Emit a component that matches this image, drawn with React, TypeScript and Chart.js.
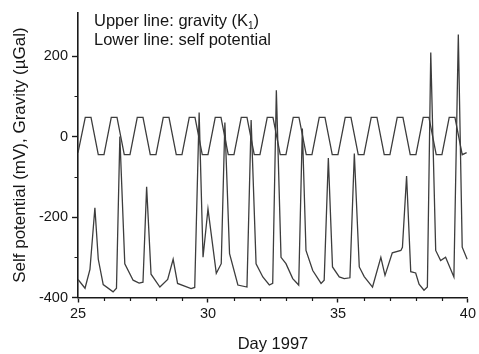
import { useEffect, useRef } from 'react';
import { Chart, registerables } from 'chart.js';

Chart.register(...registerables);

const FONT = '"Liberation Sans", Arial, Helvetica, sans-serif';
const TEXT = '#151515';
const AXIS = '#1a1a1a';
const LINE = '#3d3d3d';

// Axis ranges and tick labels
const xMin = 25;
const xMax = 40;
const yMin = -400;
const yMax = 308;
const xLabelTicks = [25, 30, 35, 40];
const xMinorTicks = [26, 27, 28, 29, 31, 32, 33, 34, 36, 37, 38, 39];
const yLabelTicks = [-400, -200, 0, 200];
const yMinorTicks = [-300, -100, 100];

const xTitle = 'Day 1997';
const yTitle = 'Self potential (mV), Gravity (µGal)';
const noteUpper = 'Upper line: gravity (K';
const noteUpperSub = '1';
const noteUpperEnd = ')';
const noteLower = 'Lower line: self potential';

// Upper line: gravity (K1) tide
const gravityDays = [
  25.0, 25.28, 25.5, 25.78,
  26.0, 26.28, 26.5, 26.78,
  27.0, 27.28, 27.5, 27.78,
  28.0, 28.28, 28.5, 28.78,
  29.0, 29.28, 29.5, 29.78,
  30.0, 30.28, 30.5, 30.78,
  31.0, 31.28, 31.5, 31.78,
  32.0, 32.28, 32.5, 32.78,
  33.0, 33.28, 33.5, 33.78,
  34.0, 34.28, 34.5, 34.78,
  35.0, 35.28, 35.5, 35.78,
  36.0, 36.28, 36.5, 36.78,
  37.0, 37.28, 37.5, 37.78,
  38.0, 38.28, 38.5, 38.78,
  39.0, 39.28, 39.5, 39.78,
  39.95,
];
const gravityValues = [
  -40, 48, 48, -45,
  -45, 48, 48, -45,
  -45, 48, 48, -45,
  -45, 48, 48, -45,
  -45, 48, 48, -45,
  -45, 48, 48, -45,
  -45, 48, 48, -45,
  -45, 48, 48, -45,
  -45, 48, 48, -45,
  -45, 48, 48, -45,
  -45, 48, 48, -45,
  -45, 48, 48, -45,
  -45, 48, 48, -45,
  -45, 48, 48, -45,
  -45, 48, 48, -45,
  -40,
];

// Lower line: self potential
const spDays = [
  25.0, 25.27, 25.46, 25.65, 25.78, 25.97, 26.35, 26.48, 26.61, 26.8,
  27.12, 27.35, 27.5, 27.64, 27.81, 28.15, 28.45, 28.66, 28.83, 29.35,
  29.49, 29.66, 29.81, 30.0, 30.32, 30.51, 30.65, 30.83, 31.15, 31.5,
  31.66, 31.85, 32.11, 32.36, 32.49, 32.63, 32.81, 33.0, 33.26, 33.49,
  33.63, 33.77, 34.03, 34.35, 34.47, 34.63, 34.79, 35.05, 35.24, 35.46,
  35.63, 35.82, 36.01, 36.33, 36.65, 36.81, 37.09, 37.42, 37.48, 37.64,
  37.8, 37.99, 38.12, 38.31, 38.44, 38.57, 38.76, 38.95, 39.14, 39.46,
  39.63, 39.78, 39.97,
];
const spValues = [
  -355, -377, -330, -177, -305, -368, -386, -377, 0, -316,
  -357, -364, -362, -125, -342, -374, -355, -305, -365, -378,
  -375, 60, -300, -180, -340, -316, 35, -291, -369, -374,
  41, -316, -349, -369, -365, 115, -300, -316, -353, -369,
  20, -283, -333, -365, -357, -53, -324, -349, -353, -351,
  -42, -324, -348, -374, -300, -345, -289, -283, -275, -98,
  -336, -339, -367, -382, -374, 209, -283, -308, -300, -349,
  254, -275, -305,
];

const decorPlugin = {
  id: 'decor',
  afterDraw(chart: any) {
    const ctx = chart.ctx as CanvasRenderingContext2D;
    const xs = chart.scales.x;
    const ys = chart.scales.y;
    const area = chart.chartArea;
    ctx.save();
    ctx.strokeStyle = AXIS;
    ctx.lineWidth = 1.2;
    ctx.beginPath();
    for (const d of xMinorTicks) {
      const px = Math.round(xs.getPixelForValue(d)) + 0.5;
      ctx.moveTo(px, area.bottom);
      ctx.lineTo(px, area.bottom + 3.5);
    }
    for (const v of yMinorTicks) {
      const py = Math.round(ys.getPixelForValue(v)) + 0.5;
      ctx.moveTo(area.left, py);
      ctx.lineTo(area.left - 3.5, py);
    }
    ctx.stroke();

    ctx.fillStyle = TEXT;
    ctx.textBaseline = 'alphabetic';
    ctx.textAlign = 'left';
    const mainFont = `16.5px ${FONT}`;
    const x0 = area.left + 16;
    ctx.font = mainFont;
    ctx.fillText(noteUpper, x0, 26);
    let w = ctx.measureText(noteUpper).width;
    ctx.font = `10px ${FONT}`;
    ctx.fillText(noteUpperSub, x0 + w, 29);
    w += ctx.measureText(noteUpperSub).width;
    ctx.font = mainFont;
    ctx.fillText(noteUpperEnd, x0 + w, 26);
    ctx.fillText(noteLower, x0, 45);
    ctx.restore();
  },
};

export default function App() {
  const canvasRef = useRef<HTMLCanvasElement | null>(null);

  useEffect(() => {
    const canvas = canvasRef.current;
    if (!canvas) return;
    Chart.defaults.font.family = FONT;
    const gravityData = gravityDays.map((d, i) => ({ x: d, y: gravityValues[i] }));
    const spData = spDays.map((d, i) => ({ x: d, y: spValues[i] }));

    const chart = new Chart(canvas, {
      type: 'line',
      data: {
        datasets: [
          {
            label: 'Gravity (K1)',
            data: gravityData,
            borderColor: LINE,
            borderWidth: 1.3,
            pointRadius: 0,
            tension: 0,
            fill: false,
          },
          {
            label: 'Self potential',
            data: spData,
            borderColor: LINE,
            borderWidth: 1.3,
            pointRadius: 0,
            tension: 0,
            fill: false,
          },
        ],
      },
      options: {
        animation: false,
        responsive: false,
        maintainAspectRatio: false,
        devicePixelRatio: 1,
        layout: { padding: { left: 4, right: 10, top: 10, bottom: 0 } },
        plugins: {
          legend: { display: false },
          tooltip: { enabled: false },
        },
        scales: {
          x: {
            type: 'linear',
            min: xMin,
            max: xMax,
            afterFit: (scale: any) => {
              scale.height = 56.5;
            },
            afterBuildTicks: (scale: any) => {
              scale.ticks = xLabelTicks.map((v) => ({ value: v }));
            },
            ticks: {
              autoSkip: false,
              maxRotation: 0,
              padding: 3,
              color: TEXT,
              font: { size: 14.5 },
            },
            grid: {
              display: true,
              drawOnChartArea: false,
              drawTicks: true,
              tickLength: 5,
              tickWidth: 1.4,
              tickColor: AXIS,
            },
            border: { display: true, color: AXIS, width: 1.6 },
            title: {
              display: true,
              text: xTitle,
              color: TEXT,
              font: { size: 16.5 },
              padding: { top: 11, bottom: 0 },
            },
          },
          y: {
            type: 'linear',
            min: yMin,
            max: yMax,
            afterFit: (scale: any) => {
              scale.width = 74;
            },
            afterBuildTicks: (scale: any) => {
              scale.ticks = yLabelTicks.map((v) => ({ value: v }));
            },
            ticks: {
              autoSkip: false,
              padding: 4,
              color: TEXT,
              font: { size: 14.5 },
            },
            grid: {
              display: true,
              drawOnChartArea: false,
              drawTicks: true,
              tickLength: 6,
              tickWidth: 1.4,
              tickColor: AXIS,
            },
            border: { display: true, color: AXIS, width: 1.6 },
            title: {
              display: true,
              text: yTitle,
              color: TEXT,
              font: { size: 17 },
              padding: { top: 6, bottom: 0 },
            },
          },
        },
      },
      plugins: [decorPlugin],
    } as any);

    return () => {
      chart.destroy();
    };
  }, []);

  return (
    <div style={{ position: 'absolute', left: 0, top: 0, width: 479, height: 354, background: '#fff' }}>
      <canvas ref={canvasRef} width={479} height={354} style={{ display: 'block' }} />
    </div>
  );
}
